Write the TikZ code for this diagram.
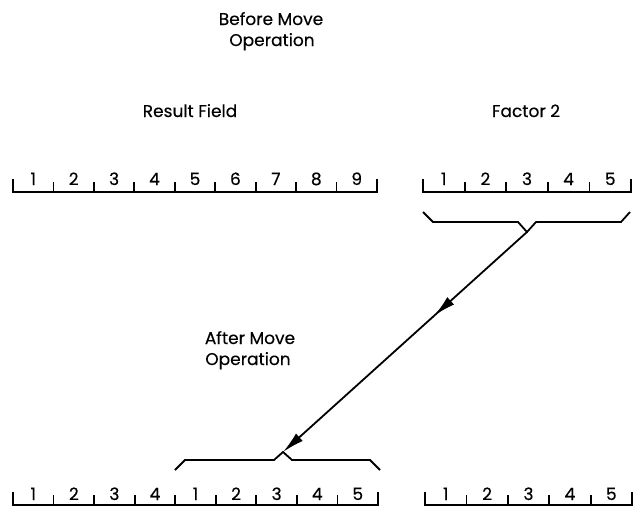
\documentclass[tikz,border=0pt]{standalone}
\usepackage{fontspec}
\setmainfont{Poppins}
\newfontfamily\semib{Poppins}[FakeBold=0.35]
\usetikzlibrary{arrows.meta,decorations.markings}
\begin{document}
\begin{tikzpicture}[x=1pt,y=-1pt,
  line/.style={line width=1.8pt},
  lbl/.style={font=\fontsize{17}{21}\selectfont\semib, anchor=base, inner sep=0pt},
  digit/.style={font=\fontsize{17}{21}\selectfont\semib, anchor=base, inner sep=0pt},
  midarrow/.style={postaction={decorate,decoration={markings,
     mark=at position 0.38 with {\arrow{Latex[length=22pt,width=10pt]}}}}},
  endarrow/.style={-{Latex[length=22pt,width=10pt]}}
]
\useasboundingbox (0,0) rectangle (640,507);

% titles
\node[lbl] (t1) at (271,25) {Before Move};
\node[lbl] (t2) at (272,46) {Operation};
\node[lbl] (rf) at (190,117) {Result Field};
\node[lbl] (f2) at (526,117) {Factor 2};
\node[lbl] (a1) at (250,344) {After Move};
\node[lbl] (a2) at (248,365) {Operation};

% top-left ruler (Result Field)
\draw[line] (13,179) -- (13,192) -- (377,192) -- (377,179);
\foreach \i in {1,...,8} \draw[line] ({13+\i*40.44},182) -- ++(0,10);
\foreach \d [count=\i] in {1,2,3,4,5,6,7,8,9}
  \node[digit] (tl\i) at ({13+(\i-0.5)*40.44},185) {\d};

% top-right ruler (Factor 2)
\draw[line] (423,179) -- (423,192) -- (631,192) -- (631,179);
\foreach \i in {1,...,4} \draw[line] ({423+\i*41.6},182) -- ++(0,10);
\foreach \d [count=\i] in {1,2,3,4,5}
  \node[digit] (tr\i) at ({423+(\i-0.5)*41.6},185) {\d};

% bottom-left ruler (Result Field after)
\draw[line] (13,492) -- (13,505) -- (378,505) -- (378,492);
\foreach \i in {1,...,8} \draw[line] ({13+\i*40.56},495) -- ++(0,10);
\foreach \d [count=\i] in {1,2,3,4,1,2,3,4,5}
  \node[digit] (bl\i) at ({13+(\i-0.5)*40.56},500) {\d};

% bottom-right ruler (Factor 2 after)
\draw[line] (425,492) -- (425,505) -- (632,505) -- (632,492);
\foreach \i in {1,...,4} \draw[line] ({425+\i*41.4},495) -- ++(0,10);
\foreach \d [count=\i] in {1,2,3,4,5}
  \node[digit] (br\i) at ({425+(\i-0.5)*41.4},500) {\d};

% braces
\draw[line] (423,212) -- (433,222) -- (518,222) -- (527,232) -- (536,222) -- (621,222) -- (630,212);
\coordinate (tb) at (527,232);
\draw[line] (175,470) -- (185,460) -- (274,460) -- (283,452) -- (292,460) -- (370,460) -- (380,470);
\coordinate (bb) at (283,452);

% arrow
\draw[line, midarrow, endarrow] (tb) -- (bb);
\end{tikzpicture}
\end{document}
